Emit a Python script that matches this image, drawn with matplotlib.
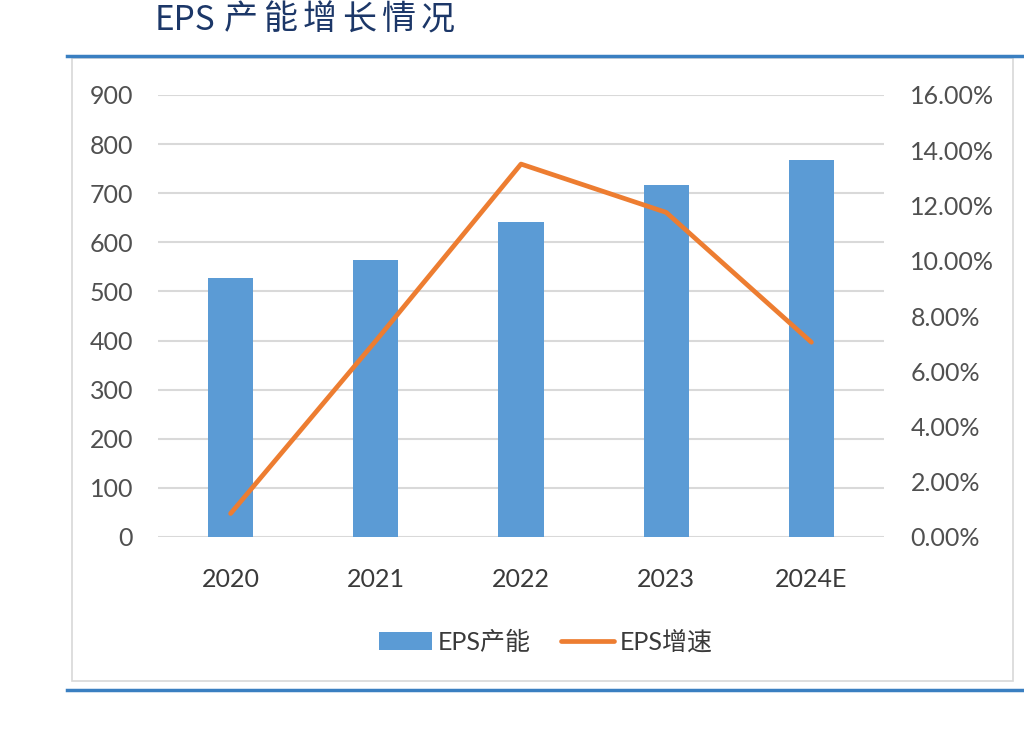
import matplotlib
matplotlib.use("Agg")
import matplotlib.pyplot as plt
from matplotlib.lines import Line2D
from matplotlib.patches import Rectangle
from matplotlib.ticker import FuncFormatter, MultipleLocator

plt.rcParams['font.family'] = ['Lato', 'Noto Sans CJK SC', 'DejaVu Sans']

categories = ["2020", "2021", "2022", "2023", "2024E"]
capacity = [528, 564, 642, 717, 768]
growth = [0.85, 7.1, 13.5, 11.75, 7.05]  # percent

title_latin = "EPS"
title_cjk = "产能增长情况"

W, H = 1024, 742
fig = plt.figure(figsize=(W/100, H/100), dpi=100)

# frame box
fig.patches.append(Rectangle((72/W, 1-681/H), (1013-72)/W, (681-58)/H,
                             transform=fig.transFigure, fill=False,
                             edgecolor="#d8d8d8", linewidth=1.2))
# blue rules
fig.add_artist(Line2D([67/W, 1.0], [1-56/H, 1-56/H], transform=fig.transFigure,
                      color="#3a7fc1", linewidth=2.5))
fig.add_artist(Line2D([67/W, 1.0], [1-690/H, 1-690/H], transform=fig.transFigure,
                      color="#3a7fc1", linewidth=2.5))

# title with wide letter spacing
tcol = "#1c3768"
fig.text(155/W, 1-21/H, title_latin, ha="left", va="center", fontsize=24,
         color=tcol, family=['Noto Sans CJK SC', 'DejaVu Sans'])
for i, ch in enumerate(title_cjk):
    fig.text((241 + 39.3*i)/W, 1-20/H, ch, ha="center", va="center", fontsize=24.5,
             color=tcol, family=['Noto Sans CJK SC', 'DejaVu Sans'])

ax = fig.add_axes([158/W, 1-537/H, (884-158)/W, (537-95)/H])
x = list(range(len(categories)))
ax.bar(x, capacity, width=0.31, color="#5b9bd5", zorder=2, label="EPS产能")
ax.set_ylim(0, 900)
ax.set_xlim(-0.5, len(categories)-0.5)
ax.yaxis.set_major_locator(MultipleLocator(100))
ax.grid(axis="y", color="#d9d9d9", linewidth=1.5, zorder=0)
ax.set_axisbelow(True)
ax.set_xticks(x)
ax.set_xticklabels(categories)
for s in ax.spines.values():
    s.set_visible(False)
ax.tick_params(axis="both", length=0)
ax.tick_params(axis="y", labelsize=18, labelcolor="#505050", pad=18)
ax.tick_params(axis="x", labelsize=18, labelcolor="#3a3a3a", pad=22)

ax2 = ax.twinx()
ax2.plot(x, growth, color="#ed7d31", linewidth=3.4, zorder=3, label="EPS增速",
         solid_capstyle="round")
ax2.set_ylim(0, 16)
ax2.yaxis.set_major_locator(MultipleLocator(2))
ax2.yaxis.set_major_formatter(FuncFormatter(lambda v, p: f"{v:.2f}%"))
for s in ax2.spines.values():
    s.set_visible(False)
ax2.tick_params(axis="y", length=0, labelsize=18, labelcolor="#505050", pad=19)

h1, l1 = ax.get_legend_handles_labels()
h2, l2 = ax2.get_legend_handles_labels()
fig.legend(h1 + h2, l1 + l2, loc="center", bbox_to_anchor=(546/W, 1-642/H),
           ncol=2, frameon=False, labelcolor="#3a3a3a",
           handlelength=2.1, handleheight=0.7, columnspacing=1.2, handletextpad=0.25,
           prop={'family': ['Lato', 'Noto Sans CJK SC'], 'size': 18})

fig.savefig("out.png", dpi=100, facecolor="white")
